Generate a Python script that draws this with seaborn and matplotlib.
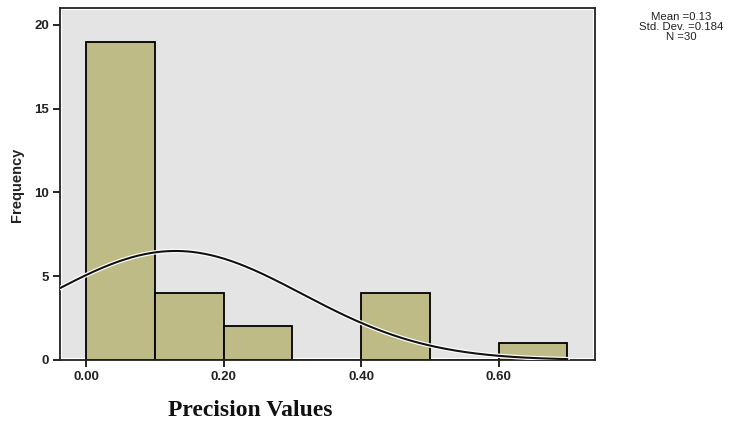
import numpy as np
import pandas as pd
import matplotlib
matplotlib.use("Agg")
import matplotlib.pyplot as plt
import matplotlib.patheffects as pe
from matplotlib.patches import Rectangle
import seaborn as sns

# ---- data ----
bin_edges = [0.0, 0.1, 0.2, 0.3, 0.4, 0.5, 0.6, 0.7]
counts = [19, 4, 2, 0, 4, 0, 1]
mean_val = 0.13
std_val = 0.184
n_val = 30
x_ticks = [0.0, 0.2, 0.4, 0.6]
x_tick_labels = ["0.00", "0.20", "0.40", "0.60"]
y_ticks = [0, 5, 10, 15, 20]

sns.set_theme(style="white")
plt.rcParams['font.family'] = ['Liberation Sans', 'DejaVu Sans']

fig = plt.figure(figsize=(7.41, 4.26), dpi=100)
ax = fig.add_axes([60/741, 1-360/426, (595-60)/741, (360-8)/426])
ax.set_facecolor("white")
ax.add_patch(Rectangle((0, 0), 1, 1, transform=ax.transAxes, facecolor="#e4e4e4",
                       edgecolor="white", linewidth=3, zorder=0))

centers = [(a + b) / 2 for a, b in zip(bin_edges[:-1], bin_edges[1:])]
df = pd.DataFrame({"value": centers, "count": counts})
sns.histplot(data=df, x="value", weights="count", bins=bin_edges, ax=ax,
             color="#bfbb86", alpha=1.0, edgecolor="black", linewidth=1.3, zorder=2)

# normal curve
xs = np.linspace(-0.038, 0.70, 300)
binw = bin_edges[1] - bin_edges[0]
ys = n_val * binw / (std_val * np.sqrt(2 * np.pi)) * np.exp(-0.5 * ((xs - mean_val) / std_val) ** 2)
sns.lineplot(x=xs, y=ys, ax=ax, color="#111111", linewidth=1.5, zorder=3,
             path_effects=[pe.Stroke(linewidth=3.2, foreground="white"), pe.Normal()])

ax.set_xlim(-0.038, 0.740)
ax.set_ylim(0, 21.0)
ax.set_xticks(x_ticks)
ax.set_xticklabels(x_tick_labels)
ax.set_yticks(y_ticks)
ax.tick_params(axis="both", direction="out", length=5, width=1.2, color="black",
               labelsize=9.5, labelcolor="#222222", bottom=True, left=True, pad=3)
for lab in ax.get_xticklabels() + ax.get_yticklabels():
    lab.set_fontweight("bold")
for s in ax.spines.values():
    s.set_color("#222222")
    s.set_linewidth(1.3)
    s.set_visible(True)
ax.set_xlabel("")
ax.set_ylabel("")

fig.text(17/741, 1-185/426, "Frequency", rotation=90, ha="center", va="center",
         fontsize=10.5, fontweight="bold", color="#222222")
fig.text(250/741, 1-410/426, "Precision Values", ha="center", va="center",
         fontsize=17, fontweight="bold", family=["Liberation Serif", "DejaVu Serif"], color="#111111")
stats_text = "\n".join([f"Mean ={mean_val}", f"Std. Dev. ={std_val}", f"N ={n_val}"])
fig.text(681/741, 1-27/426, stats_text, ha="center", va="center", multialignment="center",
         fontsize=8.2, linespacing=0.95, color="#222222")

fig.savefig("out.png", dpi=100)
